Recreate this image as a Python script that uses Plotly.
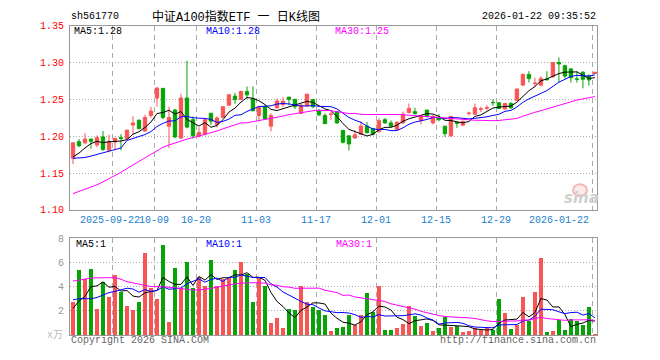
import plotly.graph_objects as go

# ---------------- data ----------------
opens = [1.170,1.1925,1.191,1.196,1.188,1.199,1.181,1.192,1.198,1.197,
         1.215,1.2215,1.207,1.228,1.2518,1.2649,1.2136,1.2355,1.1974,1.2518,
         1.2224,1.200,1.2026,1.2311,1.2158,1.2254,1.2421,1.2544,1.250,1.2605,
         1.2509,1.228,1.240,1.2136,1.2386,1.243,1.253,1.250,1.2311,1.2412,
         1.2496,1.2342,1.228,1.2295,1.2333,1.2079,1.2004,1.1974,1.2026,1.2136,
         1.2105,1.2061,1.2224,1.218,1.2092,1.218,1.232,1.2333,1.2215,1.2355,
         1.218,1.2254,1.2136,1.2005,1.2184,1.2149,1.2308,1.2298,1.2365,1.2380,
         1.2458,1.2452,1.2368,1.2443,1.2487,1.2693,1.2838,1.2715,1.2693,1.2776,
         1.2807,1.3000,1.2956,1.2912,1.2776,1.2868,1.2816,1.2851]
highs = [1.191,1.196,1.204,1.197,1.201,1.207,1.202,1.198,1.2026,1.209,
         1.227,1.223,1.229,1.240,1.266,1.265,1.240,1.237,1.2575,1.3026,
         1.2268,1.212,1.224,1.2311,1.227,1.241,1.257,1.2588,1.262,1.2675,
         1.2675,1.240,1.242,1.231,1.251,1.253,1.253,1.250,1.244,1.2575,
         1.2505,1.237,1.231,1.233,1.2333,1.2079,1.2004,1.2083,1.220,1.2193,
         1.2105,1.2246,1.2246,1.2215,1.2202,1.2333,1.2443,1.2386,1.2281,1.2355,
         1.229,1.230,1.2136,1.2268,1.220,1.221,1.2333,1.2443,1.240,1.242,
         1.250,1.2465,1.2443,1.2465,1.2645,1.2851,1.2882,1.2794,1.2816,1.2882,
         1.3000,1.3070,1.2969,1.2925,1.2882,1.2882,1.2838,1.2868]
lows = [1.162,1.185,1.189,1.183,1.185,1.180,1.178,1.1816,1.1807,1.196,
        1.2026,1.209,1.206,1.225,1.240,1.223,1.184,1.197,1.196,1.2105,
        1.197,1.198,1.201,1.215,1.212,1.2254,1.2412,1.244,1.249,1.251,
        1.2333,1.220,1.222,1.2066,1.237,1.240,1.242,1.237,1.230,1.240,
        1.238,1.227,1.2167,1.222,1.2167,1.190,1.1807,1.1974,1.2026,1.2035,
        1.2010,1.2048,1.2167,1.2123,1.2092,1.2167,1.231,1.229,1.2158,1.2250,
        1.2158,1.220,1.1991,1.1991,1.2114,1.2136,1.228,1.229,1.2325,1.2355,
        1.2412,1.2368,1.2368,1.2368,1.2480,1.2684,1.2728,1.2675,1.2675,1.2750,
        1.2794,1.2728,1.2781,1.2728,1.2728,1.2649,1.2684,1.2850]
closes = [1.191,1.187,1.196,1.193,1.198,1.182,1.193,1.197,1.197,1.208,
          1.218,1.2105,1.2255,1.234,1.2654,1.2254,1.2254,1.199,1.2518,1.2123,
          1.2004,1.205,1.2224,1.2202,1.2246,1.2399,1.2561,1.2496,1.2605,1.2561,
          1.2347,1.2395,1.2237,1.228,1.2478,1.2474,1.250,1.240,1.2421,1.257,
          1.240,1.229,1.217,1.2300,1.218,1.1917,1.1895,1.2018,1.2136,1.2048,
          1.2026,1.221,1.218,1.2136,1.2189,1.2298,1.2377,1.2307,1.2281,1.2268,
          1.2268,1.2224,1.2035,1.2268,1.2175,1.2202,1.2312,1.2386,1.2370,1.2386,
          1.2455,1.2377,1.2443,1.2386,1.2640,1.2838,1.2781,1.2719,1.2781,1.2768,
          1.3000,1.2980,1.2816,1.2794,1.2772,1.2772,1.2763,1.2868]
volumes = [2.71,5.34,4.63,5.42,2.18,4.37,3.13,4.95,3.53,2.39,
           2.08,2.71,6.74,3.92,2.95,7.45,1.05,5.55,3.92,6.03,
           3.92,4.76,4.05,6.18,4.05,4.63,4.71,5.34,6.03,5.03,
           2.71,4.76,4.05,1.00,1.37,0.58,2.13,2.08,4.05,2.71,
           2.32,2.08,1.63,0.29,0.61,0.68,1.68,0.82,1.68,3.50,
           1.92,4.05,0.42,0.42,0.58,0.89,2.39,1.61,0.74,1.00,
           0.29,0.58,1.45,0.68,0.74,0.21,0.34,0.55,0.42,0.55,
           0.42,2.95,1.84,0.53,0.82,3.18,1.13,3.58,6.34,0.21,
           0.29,1.21,0.42,1.34,1.13,0.84,2.32,0.10]

# moving-average warm-up values (window extends before the view)
price_ma5_head = [1.172,1.177,1.184,1.190]
price_ma10_head = [1.170,1.170,1.171,1.173,1.175,1.177,1.179,1.181,1.184]
price_ma30_head = [1.122,1.125,1.127,1.130,1.134,1.138,1.142,1.147,1.151,1.156,
                   1.161,1.166,1.171,1.176,1.180,1.185,1.188,1.191,1.194,1.196,
                   1.198,1.200,1.202,1.204,1.207,1.210,1.213,1.215,1.218]
vol_ma5_head = [2.2,2.8,3.2,4.0]
vol_ma10_head = [2.9,3.0,3.0,3.0,3.1,3.3,3.5,3.6,3.75]
vol_ma30_head = [4.45,4.55,4.65,4.70,4.72,4.74,4.74,4.74,4.60,4.40,
                 4.30,4.20,4.10,4.00,4.00,4.00,3.95,3.90,3.85,3.75,
                 3.70,3.72,3.76,3.85,3.95,4.05,4.15,4.22,4.28]

date_labels = ["2025-09-22","10-09","10-20","11-03","11-17","12-01","12-15","12-29","2026-01-22"]
date_idx = [7,14,21,31,41,51,61,71,87]
price_ticks = [1.10,1.15,1.20,1.25,1.30,1.35]
vol_ticks = [2,4,6,8]

symbol = "sh561770"
title_text = "中证A100指数ETF 一 日K线图"
timestamp = "2026-01-22 09:35:52"

# ---------------- helpers ----------------
def moving_avg(vals, n, head):
    out = []
    for i in range(len(vals)):
        if i < len(head):
            out.append(head[i])
        else:
            out.append(sum(vals[i-n+1:i+1]) / n)
    return out

N = len(closes)
idx = list(range(N))
ma5 = moving_avg(closes, 5, price_ma5_head)
ma10 = moving_avg(closes, 10, price_ma10_head)
ma30 = moving_avg(closes, 30, price_ma30_head)
vma5 = moving_avg(volumes, 5, vol_ma5_head)
vma10 = moving_avg(volumes, 10, vol_ma10_head)
vma30 = moving_avg(volumes, 30, vol_ma30_head)

RED = "#f95555"
GREEN = "#07a307"
BLUE = "#0000ff"
MAG = "#ff00ff"
GRID = "#aaaaaa"
BORDER = "#999999"
MONO = "Liberation Mono, DejaVu Sans Mono, monospace"
W, H = 660, 360

def px(x):
    return x / W
def py(y):
    return 1 - y / H

XD = [px(70), px(597.3)]
XR = [-0.5, 87.4]

fig = go.Figure()
fig.add_trace(go.Candlestick(
    x=idx, open=opens, high=highs, low=lows, close=closes,
    increasing=dict(line=dict(color=RED, width=1), fillcolor=RED),
    decreasing=dict(line=dict(color=GREEN, width=1), fillcolor=GREEN),
    whiskerwidth=0, xaxis="x", yaxis="y", hoverinfo="skip"))
for vals, col in [(ma5, "#000000"), (ma10, BLUE), (ma30, MAG)]:
    fig.add_trace(go.Scatter(x=idx, y=vals, mode="lines", line=dict(color=col, width=1),
                             xaxis="x", yaxis="y", hoverinfo="skip"))

vcolors = [RED if c >= o else GREEN for o, c in zip(opens, closes)]
fig.add_trace(go.Bar(x=idx, y=volumes, marker=dict(color=vcolors, line=dict(width=0)),
                     width=0.8, xaxis="x2", yaxis="y2", hoverinfo="skip"))
for vals, col in [(vma5, "#000000"), (vma10, BLUE), (vma30, MAG)]:
    fig.add_trace(go.Scatter(x=idx, y=vals, mode="lines", line=dict(color=col, width=1),
                             xaxis="x2", yaxis="y2", hoverinfo="skip"))

gridx = [i - 0.4 for i in date_idx]
xcommon = dict(domain=XD, range=XR, showticklabels=False, tickvals=gridx, ticks="",
               showgrid=True, gridcolor=GRID, griddash="5px,4px", gridwidth=1,
               zeroline=False, showline=True, mirror=True, linecolor=BORDER, linewidth=1,
               fixedrange=True)
fig.update_layout(
    width=W, height=H, margin=dict(l=0, r=0, t=0, b=0),
    paper_bgcolor="white", plot_bgcolor="white", showlegend=False,
    boxgap=0.2, bargap=0,
    font=dict(family=MONO, size=10, color="#000"),
    xaxis=dict(anchor="y", rangeslider=dict(visible=False), **xcommon),
    xaxis2=dict(anchor="y2", **xcommon),
    yaxis=dict(domain=[py(211.3), py(21.3)], range=[1.10, 1.35], anchor="x",
               tickvals=price_ticks, ticktext=["%.2f" % v for v in price_ticks],
               tickfont=dict(family=MONO, size=10, color="#ff0000"), ticks="",
               ticklabelstandoff=3,
               showgrid=True, gridcolor=GRID, griddash="1px,2px", zeroline=False,
               showline=True, mirror=True, linecolor=BORDER, fixedrange=True),
    yaxis2=dict(domain=[py(340.4), py(240.5)], range=[0, 8], anchor="x2",
                tickvals=vol_ticks, ticktext=[str(v) for v in vol_ticks],
                tickfont=dict(family=MONO, size=10, color="#999999"), ticks="",
                ticklabelstandoff=3,
                showgrid=True, gridcolor=GRID, griddash="1px,2px", zeroline=False,
                showline=True, mirror=True, linecolor=BORDER, fixedrange=True),
)

ann = []
def txt(x, y, s, color="#000", size=10, anchor="left", family=MONO, xref="paper"):
    ann.append(dict(x=x, y=y, xref=xref, yref="paper", text=s, showarrow=False,
                    xanchor=anchor, yanchor="middle",
                    font=dict(family=family, size=size, color=color)))

txt(px(69), py(12), symbol)
txt(px(236), py(12), title_text, size=12, anchor="center",
    family="Liberation Mono, Noto Sans CJK SC")
txt(px(598), py(12), timestamp, anchor="right")

txt(px(72), py(27), "MA5:%.2f" % ma5[-1])
txt(px(204), py(27), "MA10:%.2f" % ma10[-1], color=BLUE)
txt(px(333), py(27), "MA30:%.2f" % ma30[-1], color=MAG)

txt(px(74), py(247), "MA5:%d" % round(vma5[-1]))
txt(px(204), py(247), "MA10:%d" % round(vma10[-1]), color=BLUE)
txt(px(334), py(247), "MA30:%d" % round(vma30[-1]), color=MAG)

txt(px(65), py(341), "x万", color="#bbbbbb", anchor="right",
    family="Liberation Mono, Noto Sans CJK SC")
txt(px(69), py(346), "Copyright 2026 SINA.COM", color="#666666")
txt(px(598), py(346), "http://finance.sina.com.cn", color="#666666", anchor="right")

for lab, i in zip(date_labels, date_idx):
    if i == date_idx[-1]:
        ann.append(dict(x=i - 0.65, y=py(222), xref="x", yref="paper", text=lab,
                        showarrow=False, xanchor="right", yanchor="middle",
                        font=dict(family=MONO, size=10, color="#1a7fcf")))
    else:
        ann.append(dict(x=i - 0.55, y=py(222), xref="x", yref="paper", text=lab,
                        showarrow=False, xanchor="center", yanchor="middle",
                        xshift=-2 if i == date_idx[0] else 0,
                        font=dict(family=MONO, size=10, color="#1a7fcf")))

# sina watermark
ann.append(dict(x=px(581), y=py(199), xref="paper", yref="paper", text="<b><i>sina</i></b>",
                showarrow=False, xanchor="center", yanchor="middle",
                font=dict(family="DejaVu Sans", size=15, color="#cfcfcf")))
fig.update_layout(annotations=ann)
fig.add_shape(type="circle", xref="paper", yref="paper",
              x0=px(573), x1=px(587), y0=py(197), y1=py(185),
              line=dict(color="#f2b8b8", width=2), fillcolor="rgba(248,200,200,0.4)",
              layer="below")

fig.write_html("out.html", config={"displayModeBar": False, "staticPlot": True},
               post_script="document.body.style.margin='0px';")
